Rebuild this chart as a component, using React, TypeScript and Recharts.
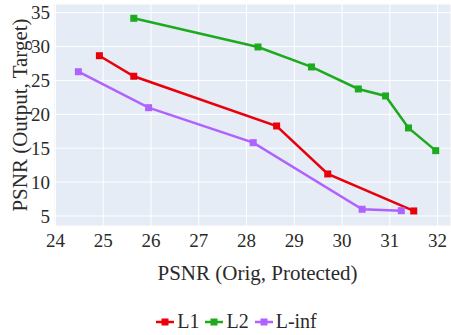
import { CartesianGrid, Label, Legend, Line, LineChart, XAxis, YAxis } from 'recharts';

// PSNR of protected image vs. PSNR of model output, per perturbation norm
const L1_X = [24.92, 25.64, 28.63, 29.7, 31.5];
const L1_Y = [28.65, 25.62, 18.28, 11.2, 5.74];
const L2_X = [25.64, 28.24, 29.36, 30.34, 30.91, 31.39, 31.96];
const L2_Y = [34.17, 29.94, 26.99, 23.74, 22.71, 17.99, 14.64];
const LINF_X = [24.48, 25.95, 28.14, 30.42, 31.24];
const LINF_Y = [26.29, 20.98, 15.82, 5.99, 5.78];

const X_TICKS = [24, 25, 26, 27, 28, 29, 30, 31, 32];
const Y_TICKS = [5, 10, 15, 20, 25, 30, 35];

const FONT = '"Liberation Serif", "Times New Roman", serif';
const TEXT = '#2a2a2a';

const zip = (xs: number[], ys: number[]) => xs.map((x, i) => ({ x, y: ys[i] }));

const SERIES = [
  { name: 'L1', color: '#e8000b', data: zip(L1_X, L1_Y) },
  { name: 'L2', color: '#1eaa1e', data: zip(L2_X, L2_Y) },
  { name: 'L-inf', color: '#b062ff', data: zip(LINF_X, LINF_Y) },
];

const SquareDot = (props: { cx?: number; cy?: number; fill?: string }) => {
  const { cx, cy, fill } = props;
  if (cx == null || cy == null) return null;
  return <rect x={cx - 3.5} y={cy - 3.5} width={7} height={7} fill={fill} />;
};

const tickText = { fontFamily: FONT, fontSize: 19, fill: TEXT };

// serif tick labels drawn by hand
const XTick = ({ x, y, payload }: any) => (
  <text x={x} y={y} dy="0.71em" textAnchor="middle" style={tickText}>
    {payload.value}
  </text>
);

const YTick = ({ x, y, payload }: any) => (
  <text x={x} y={y} dy="0.355em" textAnchor="end" style={tickText}>
    {payload.value}
  </text>
);

const LegendContent = () => (
  <div
    style={{
      display: 'flex',
      justifyContent: 'center',
      alignItems: 'center',
      height: 49,
      paddingTop: 22,
      paddingLeft: 28,
      boxSizing: 'border-box',
      fontFamily: FONT,
      fontSize: 20,
      color: TEXT,
    }}
  >
    {SERIES.map((s) => (
      <div key={s.name} style={{ display: 'flex', alignItems: 'center', marginRight: 6 }}>
        <svg width={18} height={10} style={{ marginRight: 3 }}>
          <line x1={0} y1={5} x2={18} y2={5} stroke={s.color} strokeWidth={2.5} />
          <rect x={5.5} y={1.5} width={7} height={7} fill={s.color} />
        </svg>
        <span>{s.name}</span>
      </div>
    ))}
  </div>
);

export default function App() {
  return (
    <div style={{ position: 'absolute', left: 0, top: 0, background: '#fff', fontFamily: FONT }}>
      <LineChart width={451} height={335} margin={{ top: 4, right: 0, left: 0, bottom: 0 }}>
        <CartesianGrid stroke="#ffffff" strokeWidth={1} fill="#e5ecf6" />
        <XAxis
          type="number"
          dataKey="x"
          domain={[23.97, 32.28]}
          ticks={X_TICKS}
          allowDataOverflow
          axisLine={false}
          tickLine={false}
          tickSize={6}
          tickMargin={2}
          height={60}
          tick={XTick}
        >
          <Label
            value="PSNR (Orig, Protected)"
            position="insideBottom"
            offset={6}
            dx={5}
            style={{ fontSize: 21, fontFamily: FONT, fill: TEXT }}
          />
        </XAxis>
        <YAxis
          type="number"
          dataKey="y"
          domain={[3.52, 36.28]}
          ticks={Y_TICKS}
          allowDataOverflow
          axisLine={false}
          tickLine={false}
          tickSize={2}
          tickMargin={2}
          width={54}
          tick={YTick}
        >
          <Label
            value="PSNR (Output, Target)"
            angle={-90}
            position="insideLeft"
            offset={20}
            style={{ fontSize: 21, fontFamily: FONT, fill: TEXT, textAnchor: 'middle' }}
          />
        </YAxis>
        <Legend verticalAlign="bottom" height={49} content={<LegendContent />} />
        {SERIES.map((s) => (
          <Line
            key={s.name}
            name={s.name}
            data={s.data}
            dataKey="y"
            type="linear"
            stroke={s.color}
            strokeWidth={2.5}
            dot={(p: any) => <SquareDot key={`${s.name}-${p.index}`} cx={p.cx} cy={p.cy} fill={s.color} />}
            activeDot={false}
            isAnimationActive={false}
          />
        ))}
      </LineChart>
    </div>
  );
}
